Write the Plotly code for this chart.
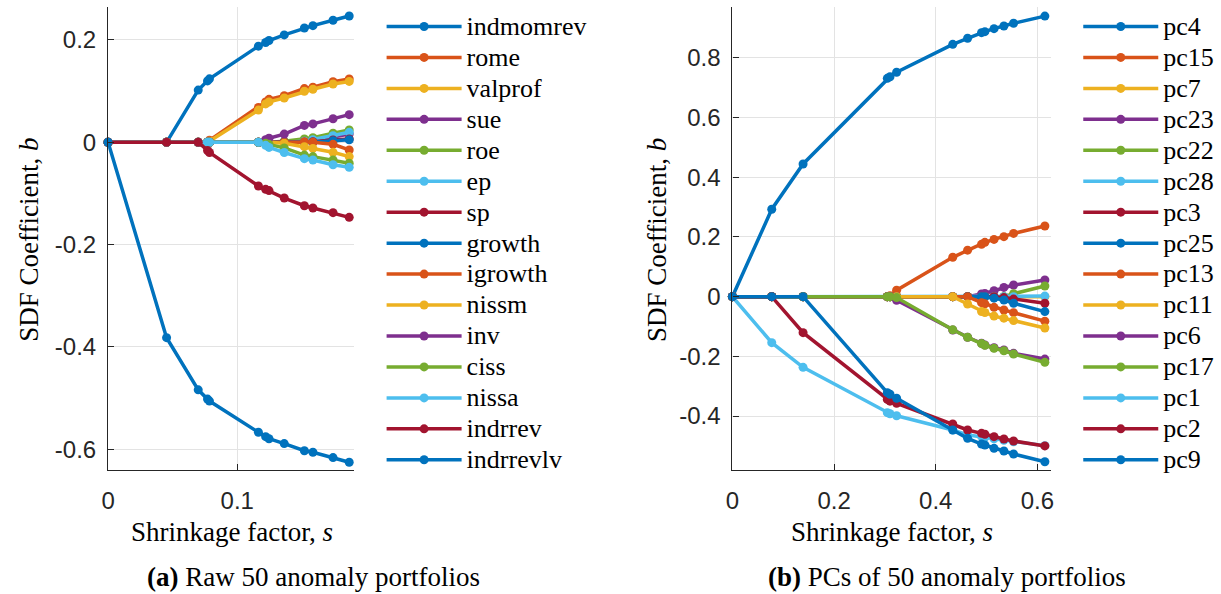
import plotly.graph_objects as go

# ---------------- data ----------------
# (a) raw anomaly portfolios: shrinkage path knots
s_raw = [0, 0.0453, 0.0698, 0.0770, 0.0785, 0.1164, 0.1220, 0.1246,
         0.1364, 0.1520, 0.1586, 0.1742, 0.1867]

names_raw = ["indmomrev", "rome", "valprof", "sue", "roe", "ep", "sp", "growth",
             "igrowth", "nissm", "inv", "ciss", "nissa", "indrrev", "indrrevlv"]

indmomrev = [0, 0, 0.102, 0.120, 0.124, 0.188, 0.195, 0.199, 0.210, 0.2235, 0.228, 0.2385, 0.247]
rome      = [0, 0, 0, 0, 0.004, 0.068, 0.079, 0.084, 0.091, 0.105, 0.1075, 0.1185, 0.1237]
valprof   = [0, 0, 0, 0, 0.002, 0.063, 0.075, 0.079, 0.0866, 0.0997, 0.1036, 0.114, 0.119]
sue       = [0, 0, 0, 0, 0, 0, 0, 0, 0, 0.001, 0.003, 0.010, 0.016]
roe       = [0, 0, 0, 0, 0, 0, 0, 0, 0.002, 0.0065, 0.009, 0.0176, 0.024]
ep        = [0, 0, 0, 0, 0, 0, 0, 0, 0, 0.002, 0.005, 0.013, 0.0195]
sp        = [0, 0, 0, 0, 0, 0, 0, 0, 0, 0, 0.001, 0.0045, 0.0065]
growth    = [0, 0, 0, 0, 0, 0, 0, 0, 0, 0, 0, 0.003, 0.005]
igrowth   = [0, 0, 0, 0, 0, 0, 0, 0, 0, 0.001, 0.0, -0.004, -0.015]
nissm     = [0, 0, 0, 0, 0, 0, 0, 0, -0.002, -0.0086, -0.012, -0.0196, -0.028]
inv       = [0, 0, 0, 0, 0, 0, 0.005, 0.008, 0.016, 0.033, 0.036, 0.046, 0.054]
ciss      = [0, 0, 0, 0, 0, 0, -0.002, -0.004, -0.011, -0.025, -0.028, -0.0346, -0.041]
nissa     = [0, 0, 0, 0, 0, 0, -0.006, -0.010, -0.020, -0.032, -0.0346, -0.044, -0.049]
indrrev   = [0, 0, 0, -0.016, -0.020, -0.0854, -0.092, -0.0945, -0.109, -0.124, -0.1285, -0.1376, -0.1467]
indrrevlv = [0, -0.382, -0.484, -0.502, -0.506, -0.567, -0.5755, -0.5795, -0.589, -0.603, -0.606, -0.6165, -0.6256]

values_raw = [indmomrev, rome, valprof, sue, roe, ep, sp, growth,
              igrowth, nissm, inv, ciss, nissa, indrrev, indrrevlv]

# (b) principal components of the anomaly portfolios
s_pc = [0, 0.0774, 0.139, 0.3047, 0.3100, 0.3230, 0.4334, 0.4626,
        0.4900, 0.4966, 0.5146, 0.5340, 0.5530, 0.6146]

names_pc = ["pc4", "pc15", "pc7", "pc23", "pc22", "pc28", "pc3", "pc25",
            "pc13", "pc11", "pc6", "pc17", "pc1", "pc2", "pc9"]

pc4  = [0, 0.293, 0.4446, 0.7316, 0.737, 0.752, 0.8455, 0.8657, 0.8845, 0.888, 0.898, 0.907, 0.916, 0.940]
pc15 = [0, 0, 0, 0, 0.003, 0.022, 0.132, 0.156, 0.1755, 0.182, 0.192, 0.201, 0.212, 0.237]
pc7  = [0, 0, 0, 0, 0, 0, 0, 0, 0, 0, 0, 0, 0, 0]
pc23 = [0, 0, 0, 0, 0, 0, 0, 0, 0.009, 0.011, 0.020, 0.031, 0.039, 0.056]
pc22 = [0, 0, 0, 0, 0, 0, 0, 0, 0, 0, 0, 0, 0.010, 0.036]
pc28 = [0, 0, 0, 0, 0, 0, 0, 0, 0, 0, 0, 0, 0, 0.002]
pc3  = [0, 0, 0, 0, 0, 0, 0, 0, 0, 0, 0, -0.003, -0.008, -0.022]
pc25 = [0, 0, 0, 0, 0, 0, 0, 0, 0, 0, -0.005, -0.011, -0.022, -0.050]
pc13 = [0, 0, 0, 0, 0, 0, 0, 0, -0.020, -0.024, -0.0357, -0.0445, -0.0536, -0.082]
pc11 = [0, 0, 0, 0, 0, 0, 0, -0.0245, -0.050, -0.053, -0.065, -0.072, -0.080, -0.105]
pc6  = [0, 0, 0, 0, 0, -0.012, -0.1116, -0.136, -0.156, -0.162, -0.171, -0.1786, -0.1897, -0.209]
pc17 = [0, 0, 0, 0, 0, -0.003, -0.111, -0.136, -0.157, -0.163, -0.173, -0.181, -0.192, -0.220]
pc1  = [0, -0.154, -0.2366, -0.3886, -0.392, -0.3987, -0.4466, -0.4633, -0.468, -0.471, -0.476, -0.481, -0.486, -0.499]
pc2  = [0, 0, -0.1206, -0.344, -0.350, -0.357, -0.4265, -0.4466, -0.4578, -0.461, -0.469, -0.4767, -0.4834, -0.500]
pc9  = [0, 0, 0, -0.3216, -0.327, -0.3404, -0.4466, -0.4745, -0.4935, -0.497, -0.508, -0.517, -0.527, -0.5528]

values_pc = [pc4, pc15, pc7, pc23, pc22, pc28, pc3, pc25,
             pc13, pc11, pc6, pc17, pc1, pc2, pc9]

ticks_raw_x = [0, 0.1]
ticks_raw_y = [-0.6, -0.4, -0.2, 0, 0.2]
ticks_pc_x = [0, 0.2, 0.4, 0.6]
ticks_pc_y = [-0.4, -0.2, 0, 0.2, 0.4, 0.6, 0.8]

# ---------------- styling ----------------
W, H = 1221, 594
palette = ["#0072BD", "#D95319", "#EDB120", "#7E2F8E", "#77AC30", "#4DBEEE", "#A2142F"]
AXC = "#262626"
GRID = "#e3e3e3"
TICKFONT = dict(family="Liberation Sans, Arial, sans-serif", size=24, color=AXC)
SERIF = "Liberation Serif"


def px_x(p):
    return p / W


def px_y(p):
    return 1 - p / H


def label(n):
    return '<span style="font-size:26px">%s</span>' % n


fig = go.Figure()

for i, (n, v) in enumerate(zip(names_raw, values_raw)):
    c = palette[i % len(palette)]
    fig.add_trace(go.Scatter(
        x=s_raw, y=v, name=label(n), mode="lines+markers",
        line=dict(color=c, width=3.5), marker=dict(color=c, size=9),
        xaxis="x", yaxis="y", legend="legend", cliponaxis=False,
    ))

for i, (n, v) in enumerate(zip(names_pc, values_pc)):
    c = palette[i % len(palette)]
    fig.add_trace(go.Scatter(
        x=s_pc, y=v, name=label(n), mode="lines+markers",
        line=dict(color=c, width=3.5), marker=dict(color=c, size=9),
        xaxis="x2", yaxis="y2", legend="legend2", cliponaxis=False,
    ))

axis_common = dict(
    showline=True, linecolor=AXC, linewidth=1.2, mirror=False,
    ticks="inside", ticklen=6, tickcolor=AXC, tickwidth=1,
    showgrid=True, gridcolor=GRID, gridwidth=1, zeroline=False,
    tickfont=TICKFONT,
)

ydom = [px_y(470), px_y(7)]

fig.update_layout(
    width=W, height=H, margin=dict(l=0, r=0, t=0, b=0),
    paper_bgcolor="white", plot_bgcolor="white",
    xaxis=dict(domain=[px_x(102), px_x(350)], range=[0, 0.1903],
               tickvals=ticks_raw_x, ticktext=["0", "0.1"],
               anchor="y", ticklabelstandoff=9, **axis_common),
    yaxis=dict(domain=ydom, range=[-0.6407, 0.2645],
               tickvals=ticks_raw_y, ticktext=["-0.6", "-0.4", "-0.2", "0", "0.2"],
               anchor="x", ticklabelstandoff=6, **axis_common),
    xaxis2=dict(domain=[px_x(732), px_x(1053)], range=[0, 0.6257],
                tickvals=ticks_pc_x, ticktext=["0", "0.2", "0.4", "0.6"],
                anchor="y2", ticklabelstandoff=9, **axis_common),
    yaxis2=dict(domain=ydom, range=[-0.5806, 0.9705],
                tickvals=ticks_pc_y,
                ticktext=["-0.4", "-0.2", "0", "0.2", "0.4", "0.6", "0.8"],
                anchor="x2", ticklabelstandoff=6, **axis_common),
    legend=dict(x=px_x(378), y=px_y(6), xanchor="left", yanchor="top",
                font=dict(family=SERIF, size=21.5, color="#000000"),
                itemwidth=75, bgcolor="rgba(0,0,0,0)", borderwidth=0,
                tracegroupgap=0, itemclick=False),
    legend2=dict(x=px_x(1081), y=px_y(6), xanchor="left", yanchor="top",
                 font=dict(family=SERIF, size=21.5, color="#000000"),
                 itemwidth=75, bgcolor="rgba(0,0,0,0)", borderwidth=0,
                 tracegroupgap=0, itemclick=False),
    showlegend=True,
)

annots = [
    ("SDF Coefficient, <i>b</i>", 22, 240, -90, 27),
    ("SDF Coefficient, <i>b</i>", 656, 240, -90, 27),
    ("Shrinkage factor, <i>s</i>", 227, 532, 0, 27),
    ("Shrinkage factor, <i>s</i>", 893, 532, 0, 27),
    ("<b>(a)</b> Raw 50 anomaly portfolios", 309, 577, 0, 27),
    ("<b>(b)</b> PCs of 50 anomaly portfolios", 949, 577, 0, 27),
]
for text, x, y, ang, size in annots:
    fig.add_annotation(
        text=text, x=px_x(x), y=px_y(y), xref="paper", yref="paper",
        xanchor="center", yanchor="middle", textangle=ang, showarrow=False,
        font=dict(family=SERIF, size=size, color="#000000"),
    )

fig.write_html("out.html")
